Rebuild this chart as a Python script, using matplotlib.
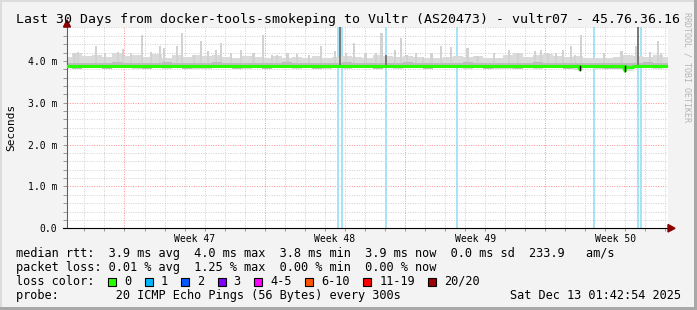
import numpy as np
import matplotlib.pyplot as plt
from matplotlib.patches import Rectangle, Polygon

W, H = 697, 310
MONO = "DejaVu Sans Mono"

# ---- data (x in days since the start of the 30 day window, y in ms) ----
title = "Last 30 Days from docker-tools-smokeping to Vultr (AS20473) - vultr07 - 45.76.36.16"
ytick_vals = [0, 1, 2, 3, 4]
ytick_labels = ["0.0", "1.0 m", "2.0 m", "3.0 m", "4.0 m"]
week_labels = ["Week 47", "Week 48", "Week 49", "Week 50"]
week_start = 2.87  # first monday inside the window

# smoke band, one value every half day
smoke_day = np.arange(0, 30.5, 0.5)
smoke_hi = [4.10, 4.20, 4.12, 4.15, 4.10, 4.18, 4.12, 4.14, 4.10, 4.16,
            4.08, 4.15, 4.10, 4.14, 4.12, 4.15, 4.10, 4.08, 4.12, 4.10,
            4.08, 4.12, 4.06, 4.10, 4.08, 4.12, 4.08, 4.10, 4.12, 4.10,
            4.06, 4.15, 4.12, 4.10, 4.12, 4.10, 4.06, 4.08, 4.10, 4.12,
            4.10, 4.12, 4.06, 4.08, 4.14, 4.18, 4.10, 4.14, 4.16, 4.12,
            4.10, 4.12, 4.06, 4.08, 4.06, 4.10, 4.14, 4.12, 4.10, 4.14,
            4.10]
smoke_lo = [3.82, 3.81, 3.82, 3.83, 3.81, 3.82, 3.82, 3.80, 3.82, 3.83,
            3.81, 3.82, 3.82, 3.81, 3.80, 3.82, 3.83, 3.82, 3.81, 3.82,
            3.82, 3.83, 3.82, 3.81, 3.82, 3.82, 3.80, 3.82, 3.81, 3.82,
            3.82, 3.83, 3.82, 3.81, 3.82, 3.82, 3.81, 3.82, 3.83, 3.82,
            3.81, 3.82, 3.82, 3.80, 3.81, 3.82, 3.82, 3.81, 3.82, 3.83,
            3.82, 3.78, 3.82, 3.81, 3.82, 3.80, 3.76, 3.82, 3.82, 3.81,
            3.82]
median_ms = [3.88, 3.87, 3.88, 3.88, 3.87, 3.89, 3.88, 3.88, 3.87, 3.88,
             3.89, 3.88, 3.87, 3.88, 3.88, 3.89, 3.88, 3.87, 3.88, 3.88,
             3.87, 3.88, 3.89, 3.88, 3.88, 3.87, 3.88, 3.88, 3.89, 3.88,
             3.88, 3.87, 3.88, 3.88, 3.89, 3.88, 3.87, 3.88, 3.88, 3.88,
             3.89, 3.88, 3.87, 3.88, 3.88, 3.87, 3.88, 3.89, 3.88, 3.88,
             3.87, 3.88, 3.88, 3.88, 3.87, 3.87, 3.86, 3.88, 3.89, 3.88,
             3.88]

# single slow pings sticking out of the smoke
spike_day = [0.37, 0.55, 1.45, 1.90, 2.55, 2.80, 3.20, 3.74, 4.20, 4.64,
             4.84, 5.49, 5.74, 6.34, 6.69, 7.04, 7.44, 7.69, 8.20, 8.69,
             9.30, 9.78, 10.23, 10.48, 11.00, 11.48, 12.08, 12.68, 13.38, 13.93,
             14.32, 14.90, 15.42, 15.69, 16.37, 16.67, 16.97, 17.42, 17.77, 18.20,
             18.66, 19.16, 20.00, 20.50, 21.30, 22.05, 22.50, 23.35, 23.65, 24.00,
             24.40, 24.75, 25.15, 25.35, 25.67, 26.80, 27.67, 28.42, 29.10, 29.50,
             29.65]
spike_top = [4.20, 4.22, 4.36, 4.20, 4.22, 4.29, 4.20, 4.62, 4.22, 4.36,
             4.30, 4.36, 4.67, 4.14, 4.48, 4.24, 4.26, 4.43, 4.20, 4.26,
             4.18, 4.62, 4.14, 4.14, 4.18, 4.16, 4.14, 4.36, 4.24, 4.20,
             4.43, 4.20, 4.19, 4.67, 4.26, 4.55, 4.14, 4.19, 4.10, 4.20,
             4.36, 4.34, 4.31, 4.12, 4.20, 4.26, 4.19, 4.24, 4.26, 4.19,
             4.19, 4.26, 4.36, 4.14, 4.62, 4.20, 4.24, 4.36, 4.22, 4.48,
             4.20]

# samples with loss (1 of 20) and their full smoke column
loss_day = [13.52, 13.72, 15.94, 19.49, 26.33, 28.52, 28.67]
burst_day = [13.62, 15.94, 28.52]
burst_top = [4.81, 4.14, 4.81]

# short median dips
dip_day = [25.61, 27.86]
dip_ms = [3.78, 3.75]

loss_labels = ["0", "1", "2", "3", "4-5", "6-10", "11-19", "20/20"]
loss_colors = ["#26ff00", "#00b8ff", "#0059ff", "#7e00ff", "#ff00ff",
               "#ff5500", "#ff0000", "#a10000"]

row_rtt = "median rtt:  3.9 ms avg  4.0 ms max  3.8 ms min  3.9 ms now  0.0 ms sd  233.9   am/s"
row_loss = "packet loss: 0.01 % avg  1.25 % max  0.00 % min  0.00 % now"
row_probe = "probe:        20 ICMP Echo Pings (56 Bytes) every 300s"
stamp = "Sat Dec 13 01:42:54 2025"


def fp(x, y):
    return x / W, 1 - y / H


fig = plt.figure(figsize=(W / 100, H / 100), dpi=100)
fig.patch.set_facecolor("#f3f3f3")

# frame around the image
for (x0, y0, w, h, c) in [(0, 0, W, 2, "#dcdcdc"), (0, 0, 2, H, "#dcdcdc"),
                          (W - 3, 0, 3, H, "#a8a8a8"), (0, H - 3, W, 3, "#a8a8a8")]:
    fig.patches.append(Rectangle(fp(x0, y0 + h), w / W, h / H, transform=fig.transFigure,
                                 facecolor=c, edgecolor="none"))

ax = fig.add_axes([67 / W, 1 - 228.3 / H, 601 / W, 201.3 / H])
ax.set_facecolor("white")
ax.set_xlim(0, 30)
ax.set_ylim(0, 4.81)

# grid
for v in np.arange(0.2, 4.81, 0.2):
    major = abs(v - round(v)) < 1e-6
    ax.axhline(v, color="#ff9090" if major else "#cfcfcf", lw=0.7,
               ls=(0, (1, 1.5)), zorder=0.5)
for d in np.arange(week_start - 2, 30, 1.0):
    major = abs((d - week_start) % 7) < 1e-6
    ax.axvline(d, color="#ff9090" if major else "#cfcfcf", lw=0.7,
               ls=(0, (1, 1.5)), zorder=0.5)

# loss columns
for d in loss_day:
    ax.axvspan(d - 0.05, d + 0.05, color="#a8e2f6", lw=0, zorder=1)

# smoke
ax.fill_between(smoke_day, smoke_lo, smoke_hi, step="mid", color="#dadada", lw=0, zorder=2)
ax.bar(spike_day, np.array(spike_top) - 3.95, bottom=3.95, width=0.12,
       color="#d2d2d2", lw=0, zorder=2)
med = np.array(median_ms)
ax.fill_between(smoke_day, med - 0.06, med + 0.08, step="mid", color="#bdbdbd", lw=0, zorder=2.2)
ax.fill_between(smoke_day, med - 0.05, med + 0.02, step="mid", color="#8e8e8e", lw=0, zorder=2.3)
ax.bar(burst_day, np.array(burst_top) - 3.9, bottom=3.9, width=0.1,
       color="#7a7a7a", lw=0, zorder=2.4)

# median line
ax.step(smoke_day, median_ms, where="mid", color="#26ff00", lw=2.2, zorder=3)
for d, v in zip(dip_day, dip_ms):
    ax.plot([d - 0.12, d, d + 0.04], [3.87, v, 3.87], color="#26ff00", lw=2.0, zorder=3)
    ax.plot([d, d], [v, 3.87], color="black", lw=1.0, zorder=3.1)

# axes
for s in ["top", "right"]:
    ax.spines[s].set_visible(False)
ax.spines["left"].set_color("#606060")
ax.spines["left"].set_linewidth(0.8)
ax.spines["bottom"].set_color("black")
ax.spines["bottom"].set_linewidth(0.8)
ax.spines["bottom"].set_bounds(-0.2, 30.1)

ax.set_yticks(ytick_vals)
ax.set_yticklabels(ytick_labels, fontfamily=MONO, fontsize=7)
ax.set_yticks(np.arange(0.2, 4.81, 0.2), minor=True)
ax.tick_params(axis="y", which="both", length=3, width=0.7, color="#9a9a9a", pad=4)

week_mid = [week_start + 3.5 + 7 * i for i in range(4)]
ax.set_xticks(week_mid)
ax.set_xticklabels(week_labels, fontfamily=MONO, fontsize=7)
ax.set_xticks(np.arange(week_start - 2, 30, 1.0), minor=True)
ax.tick_params(axis="x", which="major", length=0, pad=4)
ax.tick_params(axis="x", which="minor", length=2, width=0.7, color="#9a9a9a")

# axis arrows
fig.patches.append(Polygon([fp(63.5, 27), fp(70.5, 27), fp(67, 20)], closed=True,
                           transform=fig.transFigure, color="#8b0000"))
fig.patches.append(Polygon([fp(668, 224.5), fp(668, 232), fp(675, 228.3)], closed=True,
                           transform=fig.transFigure, color="#8b0000"))

# texts
fig.text(*fp(16, 19.5), title, fontfamily=MONO, fontsize=9.5, va="center", ha="left")
fig.text(*fp(11, 127), "Seconds", fontfamily=MONO, fontsize=8, rotation=90,
         va="center", ha="center")
fig.text(*fp(687, 12), "RRDTOOL / TOBI OETIKER", fontfamily=MONO, fontsize=6,
         rotation=270, va="top", ha="center", color="#b4b4b4")

fs = 8.6
cw = 7.17
fig.text(*fp(16, 254), row_rtt, fontfamily=MONO, fontsize=fs, va="center")
fig.text(*fp(16, 267.7), row_loss, fontfamily=MONO, fontsize=fs, va="center")
fig.text(*fp(16, 281.5), "loss color:", fontfamily=MONO, fontsize=fs, va="center")
x = 108.0
for lab, col in zip(loss_labels, loss_colors):
    fig.patches.append(Rectangle(fp(x, 285.5), 8 / W, 8 / H, transform=fig.transFigure,
                                 facecolor=col, edgecolor="black", lw=0.8))
    fig.text(*fp(x + 16, 281.5), lab, fontfamily=MONO, fontsize=fs, va="center")
    x += (len(lab) + 4.1) * cw
fig.text(*fp(16, 295.5), row_probe, fontfamily=MONO, fontsize=fs, va="center")
fig.text(*fp(681, 295.5), stamp, fontfamily=MONO, fontsize=fs, va="center", ha="right")

fig.savefig("out.png", dpi=100, facecolor=fig.get_facecolor())
